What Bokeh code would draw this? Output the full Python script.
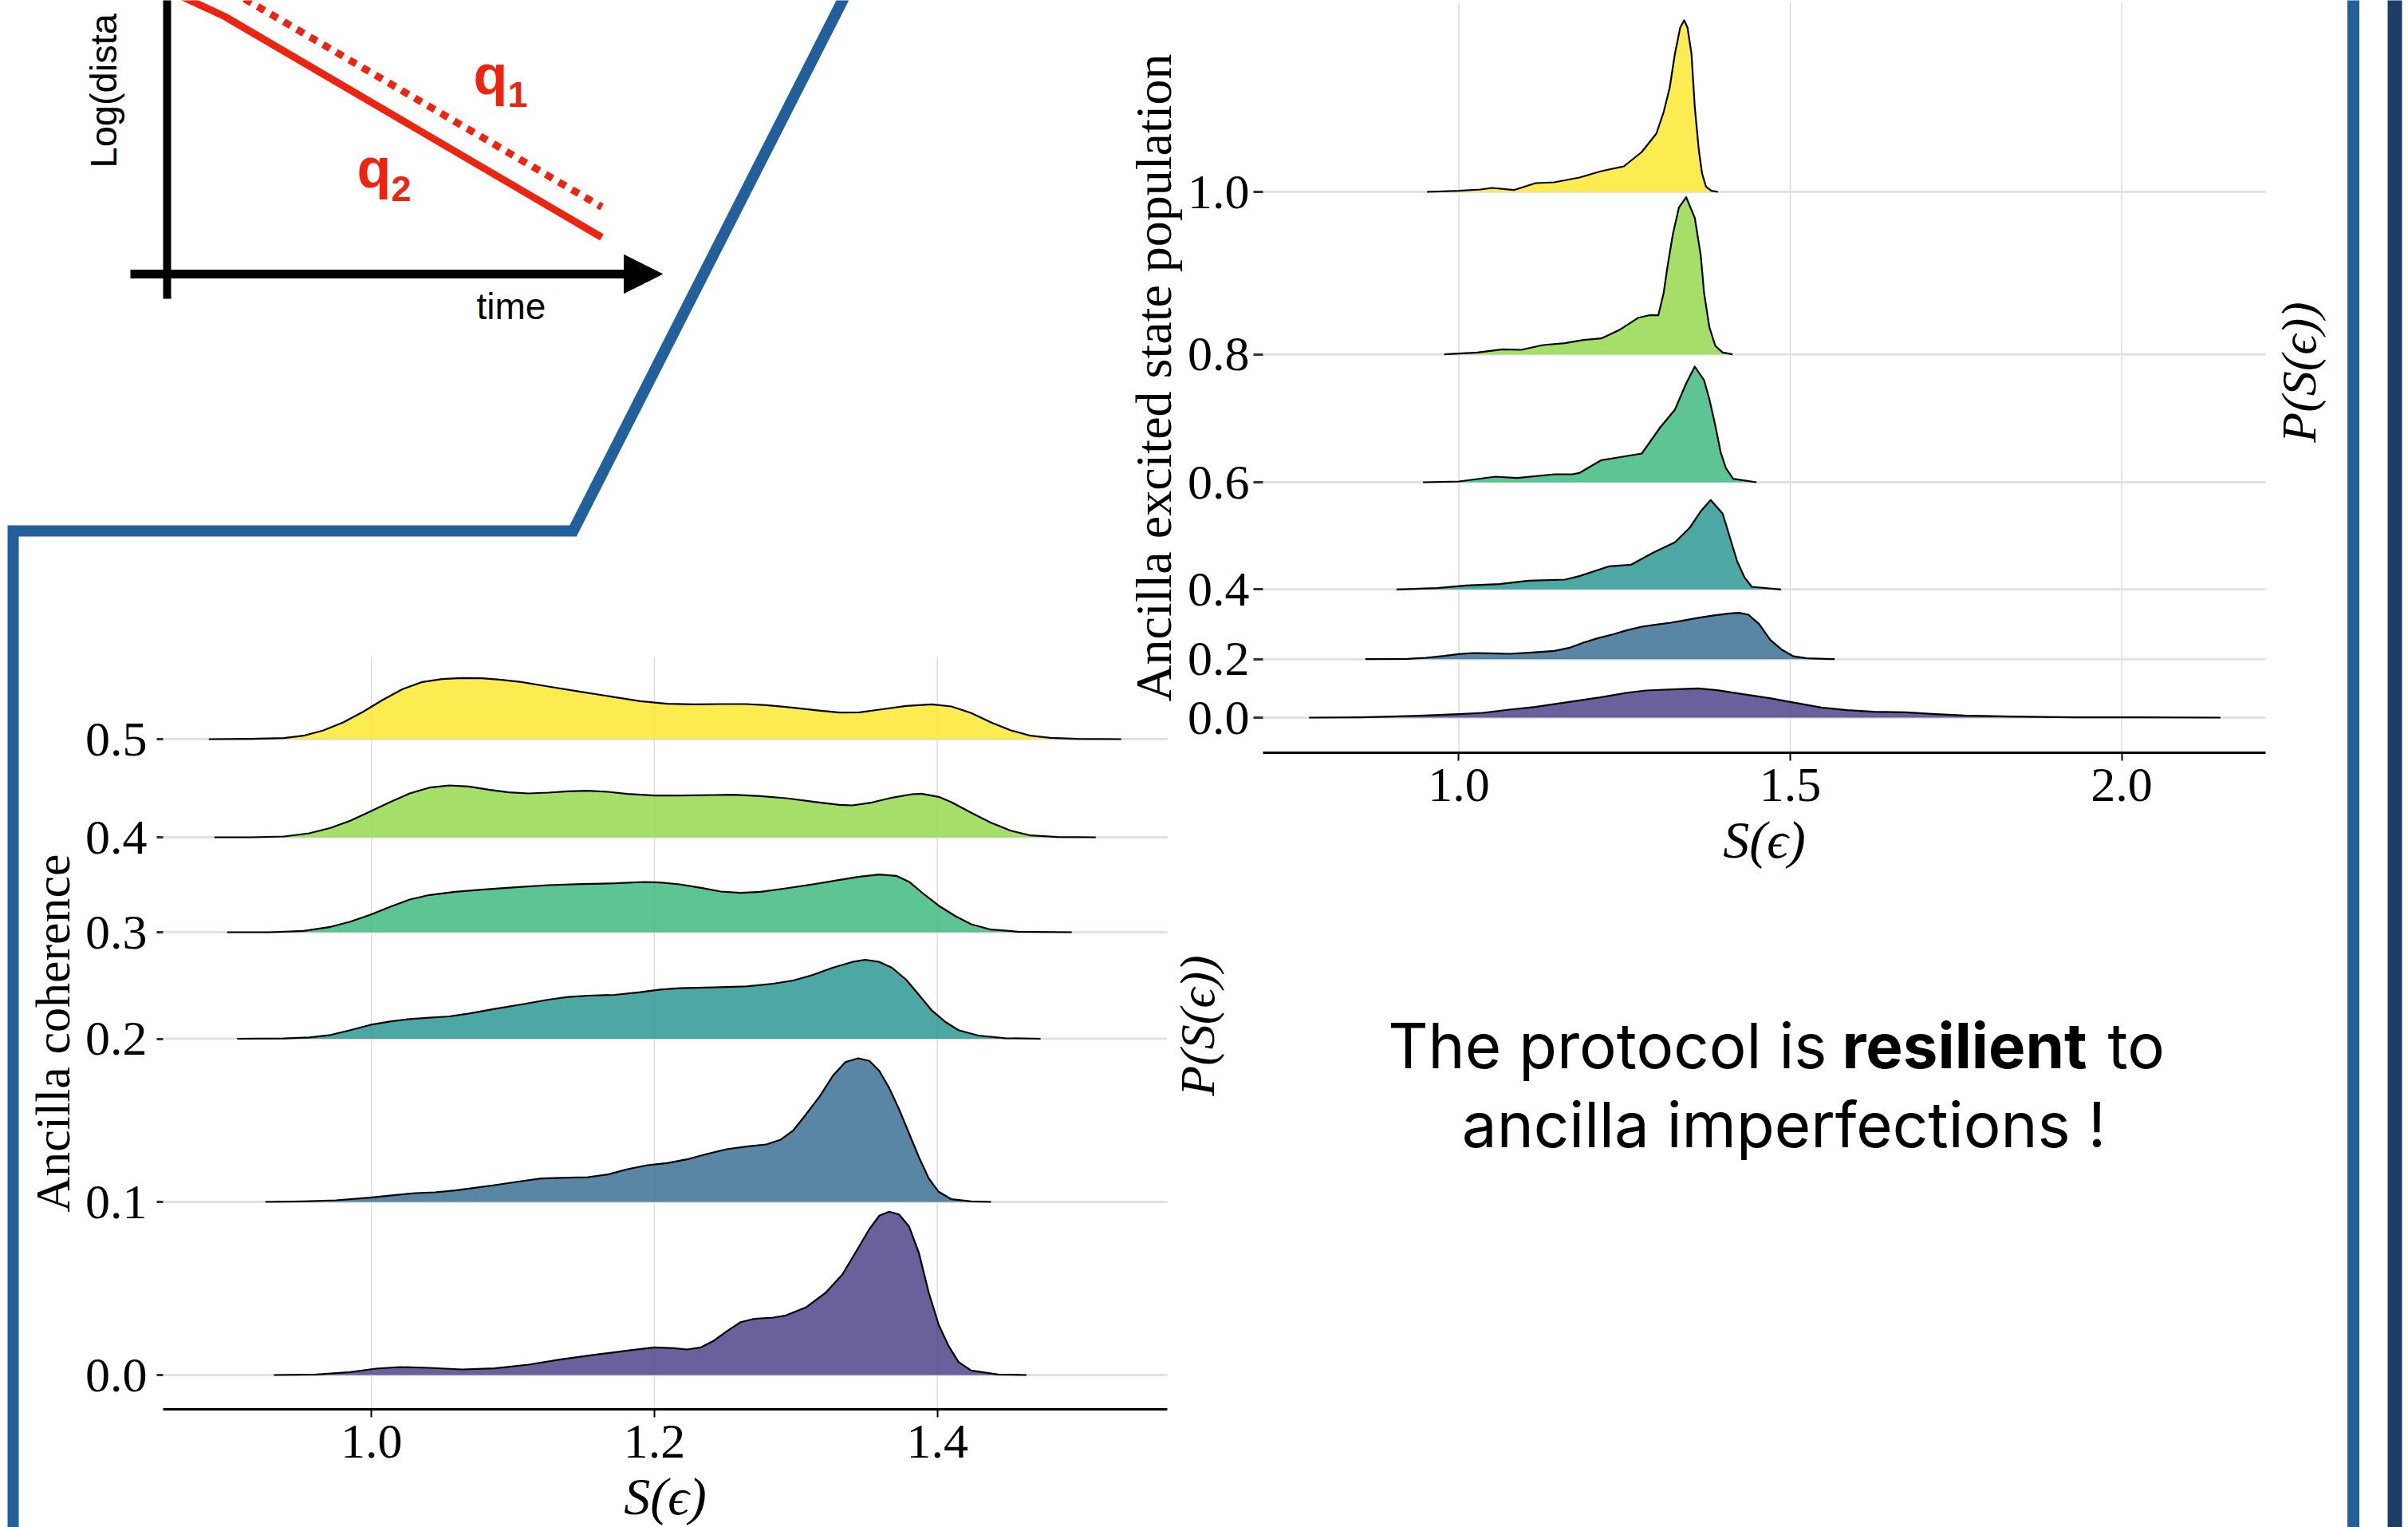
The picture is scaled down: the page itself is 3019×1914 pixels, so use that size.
from bokeh.plotting import figure
from bokeh.models import (Range1d, FixedTicker, PrintfTickFormatter, Label, Arrow,
                          NormalHead, ColumnDataSource, LinearAxis)
from bokeh.embed import file_html
from bokeh.resources import INLINE

W, H = 3019, 1914

# ---------------- data: ancilla coherence (bottom-left ridgeline) ----------------
coh_levels = ["0.0", "0.1", "0.2", "0.3", "0.4", "0.5"]
coh_offsets = [0.43, 2.60, 4.645, 5.98, 7.17, 8.40]
coh_s = [
    [0.931, 0.961, 0.985, 1.003, 1.020, 1.041, 1.064, 1.087, 1.111, 1.134, 1.162, 1.181, 1.200, 1.214,
     1.223, 1.233, 1.242, 1.251, 1.261, 1.270, 1.284, 1.293, 1.307, 1.321, 1.333, 1.342, 1.352, 1.359,
     1.366, 1.373, 1.380, 1.387, 1.394, 1.401, 1.408, 1.415, 1.424, 1.443, 1.463],
    [0.925, 0.952, 0.975, 0.999, 1.017, 1.031, 1.045, 1.059, 1.073, 1.087, 1.106, 1.120, 1.139, 1.153,
     1.167, 1.181, 1.195, 1.209, 1.223, 1.237, 1.251, 1.265, 1.279, 1.289, 1.298, 1.307, 1.317, 1.326,
     1.335, 1.344, 1.352, 1.359, 1.366, 1.373, 1.380, 1.387, 1.394, 1.401, 1.410, 1.424, 1.438],
    [0.905, 0.938, 0.956, 0.971, 0.985, 0.999, 1.013, 1.027, 1.041, 1.055, 1.069, 1.087, 1.106, 1.125,
     1.139, 1.153, 1.172, 1.190, 1.204, 1.218, 1.242, 1.265, 1.284, 1.298, 1.312, 1.326, 1.340, 1.349,
     1.359, 1.368, 1.378, 1.387, 1.396, 1.406, 1.415, 1.429, 1.448, 1.473],
    [0.898, 0.928, 0.952, 0.971, 0.985, 0.999, 1.013, 1.027, 1.041, 1.059, 1.078, 1.102, 1.125, 1.148,
     1.172, 1.193, 1.204, 1.218, 1.233, 1.247, 1.261, 1.275, 1.293, 1.312, 1.331, 1.345, 1.359, 1.371,
     1.380, 1.389, 1.401, 1.413, 1.424, 1.438, 1.457, 1.495],
    [0.889, 0.914, 0.938, 0.956, 0.971, 0.985, 0.999, 1.013, 1.027, 1.041, 1.055, 1.069, 1.083, 1.097,
     1.111, 1.125, 1.139, 1.153, 1.167, 1.181, 1.200, 1.218, 1.242, 1.256, 1.275, 1.293, 1.312, 1.331,
     1.340, 1.354, 1.368, 1.382, 1.389, 1.401, 1.410, 1.424, 1.438, 1.452, 1.466, 1.485, 1.512],
    [0.885, 0.914, 0.938, 0.952, 0.966, 0.980, 0.994, 1.008, 1.022, 1.036, 1.050, 1.064, 1.078, 1.092,
     1.106, 1.125, 1.148, 1.172, 1.190, 1.209, 1.228, 1.247, 1.265, 1.279, 1.293, 1.312, 1.331, 1.345,
     1.359, 1.378, 1.396, 1.410, 1.424, 1.438, 1.452, 1.466, 1.480, 1.499, 1.530],
]
coh_p = [
    [0, 0.007, 0.037, 0.08, 0.10, 0.09, 0.07, 0.083, 0.13, 0.197, 0.263, 0.307, 0.347, 0.337, 0.32,
     0.347, 0.43, 0.547, 0.663, 0.703, 0.72, 0.747, 0.847, 1.03, 1.263, 1.53, 1.83, 1.997, 2.047, 2.013,
     1.863, 1.53, 1.03, 0.63, 0.363, 0.163, 0.057, 0.007, 0],
    [0, 0.007, 0.02, 0.053, 0.087, 0.11, 0.12, 0.143, 0.177, 0.21, 0.26, 0.293, 0.303, 0.31, 0.343,
     0.41, 0.46, 0.487, 0.533, 0.60, 0.66, 0.693, 0.72, 0.777, 0.893, 1.093, 1.327, 1.577, 1.753, 1.80,
     1.767, 1.643, 1.427, 1.16, 0.86, 0.56, 0.293, 0.127, 0.033, 0.007, 0],
    [0, 0.003, 0.017, 0.047, 0.107, 0.173, 0.217, 0.247, 0.263, 0.28, 0.317, 0.373, 0.43, 0.49, 0.523,
     0.54, 0.55, 0.583, 0.617, 0.633, 0.643, 0.657, 0.69, 0.73, 0.80, 0.89, 0.963, 0.99, 0.963, 0.89,
     0.74, 0.55, 0.357, 0.207, 0.107, 0.04, 0.007, 0],
    [0, 0, 0.017, 0.067, 0.133, 0.217, 0.317, 0.41, 0.467, 0.507, 0.533, 0.563, 0.59, 0.603, 0.613,
     0.63, 0.623, 0.60, 0.557, 0.51, 0.493, 0.507, 0.55, 0.60, 0.657, 0.697, 0.723, 0.707, 0.633, 0.50,
     0.333, 0.20, 0.10, 0.033, 0.007, 0],
    [0, 0, 0.01, 0.05, 0.117, 0.207, 0.323, 0.44, 0.55, 0.623, 0.65, 0.637, 0.597, 0.563, 0.55, 0.56,
     0.577, 0.583, 0.57, 0.543, 0.523, 0.523, 0.53, 0.533, 0.517, 0.49, 0.447, 0.407, 0.40, 0.437,
     0.497, 0.54, 0.547, 0.507, 0.44, 0.307, 0.183, 0.083, 0.023, 0.003, 0],
    [0, 0.003, 0.013, 0.043, 0.11, 0.21, 0.343, 0.493, 0.627, 0.717, 0.753, 0.767, 0.763, 0.743, 0.717,
     0.66, 0.593, 0.527, 0.477, 0.443, 0.437, 0.44, 0.44, 0.427, 0.403, 0.367, 0.333, 0.337, 0.37,
     0.417, 0.437, 0.41, 0.327, 0.21, 0.11, 0.043, 0.017, 0.003, 0],
]
coh_xticks = [1.0, 1.2, 1.4]
coh_xlim = (0.8527, 1.5626)
coh_ylim = (0.0, 9.43)

# ---------------- data: ancilla excited state population (top-right ridgeline) ----------------
pop_levels = ["0.0", "0.2", "0.4", "0.6", "0.8", "1.0"]
pop_offsets = [0.44, 1.173, 2.047, 3.39, 4.993, 7.03]
pop_s = [
    [0.774, 0.850, 0.899, 0.948, 1.000, 1.036, 1.076, 1.115, 1.164, 1.213, 1.252, 1.282, 1.321, 1.361,
     1.390, 1.429, 1.469, 1.502, 1.547, 1.586, 1.626, 1.675, 1.714, 1.763, 1.832, 1.930, 2.028, 2.149],
    [0.859, 0.923, 0.950, 0.978, 1.000, 1.022, 1.044, 1.077, 1.111, 1.144, 1.166, 1.188, 1.210, 1.232,
     1.254, 1.276, 1.298, 1.320, 1.343, 1.365, 1.387, 1.409, 1.423, 1.437, 1.453, 1.470, 1.487, 1.505,
     1.525, 1.567],
    [0.906, 0.967, 1.011, 1.061, 1.105, 1.160, 1.182, 1.227, 1.260, 1.293, 1.326, 1.348, 1.365, 1.380,
     1.398, 1.409, 1.420, 1.431, 1.442, 1.486],
    [0.946, 1.000, 1.055, 1.088, 1.144, 1.171, 1.182, 1.215, 1.254, 1.276, 1.304, 1.326, 1.343, 1.356,
     1.370, 1.378, 1.387, 1.395, 1.403, 1.414, 1.449],
    [0.978, 1.028, 1.066, 1.094, 1.127, 1.160, 1.188, 1.215, 1.243, 1.271, 1.287, 1.301, 1.309, 1.315,
     1.323, 1.332, 1.343, 1.356, 1.365, 1.370, 1.378, 1.387, 1.398, 1.413],
    [0.952, 1.000, 1.033, 1.050, 1.083, 1.116, 1.144, 1.182, 1.215, 1.249, 1.276, 1.298, 1.309, 1.318,
     1.326, 1.334, 1.340, 1.345, 1.351, 1.356, 1.362, 1.367, 1.373, 1.381, 1.391],
]
pop_p = [
    [0, 0.003, 0.013, 0.027, 0.043, 0.06, 0.10, 0.133, 0.193, 0.253, 0.31, 0.34, 0.353, 0.367, 0.343,
     0.293, 0.243, 0.193, 0.127, 0.093, 0.073, 0.067, 0.047, 0.027, 0.013, 0.003, 0.003, 0],
    [0, 0.003, 0.017, 0.04, 0.063, 0.077, 0.073, 0.067, 0.083, 0.103, 0.14, 0.207, 0.263, 0.31, 0.363,
     0.407, 0.433, 0.457, 0.49, 0.523, 0.55, 0.573, 0.58, 0.557, 0.44, 0.24, 0.12, 0.035, 0.01, 0],
    [0, 0.017, 0.05, 0.067, 0.11, 0.123, 0.167, 0.29, 0.31, 0.46, 0.59, 0.77, 0.98, 1.12, 0.95, 0.65,
     0.35, 0.15, 0.033, 0],
    [0, 0.01, 0.07, 0.053, 0.10, 0.10, 0.117, 0.277, 0.33, 0.36, 0.69, 0.91, 1.24, 1.45, 1.28, 1.04, 0.71,
     0.377, 0.177, 0.043, 0],
    [0, 0.023, 0.063, 0.057, 0.117, 0.14, 0.18, 0.20, 0.31, 0.46, 0.49, 0.49, 0.77, 1.11, 1.51, 1.84,
     1.97, 1.71, 1.24, 0.77, 0.34, 0.107, 0.023, 0],
    [0, 0.013, 0.03, 0.05, 0.023, 0.11, 0.12, 0.18, 0.26, 0.32, 0.50, 0.73, 1.00, 1.30, 1.73, 2.06, 2.15,
     2.06, 1.73, 1.06, 0.53, 0.23, 0.063, 0.013, 0],
]
pop_xticks = [1.0, 1.5, 2.0]
pop_xlim = (0.7046, 2.2172)
pop_ylim = (0.0, 9.40)

ridge_colors = ["#443983", "#31688e", "#21918c", "#35b779", "#8fd744", "#fde725"]

BLUE = "#22609c"
NAVY = "#1c3d66"
RED = "#ec2410"
SERIF = "Liberation Serif"
SANS = "Liberation Sans"
STMT = "Inter"

# ---------------- one page-sized canvas, pixel coordinates for the layout ----------------
p = figure(width=W, height=H, x_range=Range1d(0, W), y_range=Range1d(H, 0),
           output_backend="svg", toolbar_location=None, title=None, min_border=0,
           x_axis_location=None, y_axis_location=None, outline_line_color=None,
           background_fill_color="white", border_fill_color="white")
p.xgrid.visible = False
p.ygrid.visible = False


def extend(d0, d1, p0, p1, q0, q1):
    """data range that maps pixel p0->d0, p1->d1, evaluated at canvas edges q0, q1"""
    k = (d1 - d0) / (p1 - p0)
    return Range1d(start=d0 + (q0 - p0) * k, end=d0 + (q1 - p0) * k)


def ridge_panel(name, frame, xlim, ylim, xticks, offsets, levels, s_list, p_list,
                ylabel, ylabel_size, ytick_len, ytick_standoff):
    left, right, top, bottom = frame
    p.extra_x_ranges[name] = extend(xlim[0], xlim[1], left, right, 0, W)
    p.extra_y_ranges[name] = extend(ylim[0], ylim[1], bottom, top, H, 0)
    kw = dict(x_range_name=name, y_range_name=name)

    # grid lines (from the tick values)
    p.segment(x0=xticks, x1=xticks, y0=[ylim[0]] * len(xticks), y1=[ylim[1]] * len(xticks),
              line_color="#dcdcdc", line_width=1.5, **kw)
    p.segment(x0=[xlim[0]] * len(offsets), x1=[xlim[1]] * len(offsets), y0=offsets, y1=offsets,
              line_color="#e2e2e2", line_width=3, **kw)

    # ridges: upper ones first so lower ridges are painted on top
    for i in reversed(range(len(levels))):
        s = s_list[i]
        h = p_list[i]
        assert len(s) == len(h), (name, i, len(s), len(h))
        base = offsets[i]
        src = ColumnDataSource(dict(s=s, base=[base] * len(s), top=[base + v for v in h]))
        p.varea(x="s", y1="base", y2="top", source=src, fill_color=ridge_colors[i],
                fill_alpha=0.8, **kw)
        p.line(x="s", y="top", source=src, line_color="black", line_width=2.2,
               line_join="round", **kw)

    xa = LinearAxis(fixed_location=ylim[0], bounds=xlim, **kw)
    xa.ticker = FixedTicker(ticks=xticks)
    xa.formatter = PrintfTickFormatter(format="%.1f")
    xa.axis_line_color = "black"
    xa.axis_line_width = 3
    xa.major_tick_out = 10
    xa.major_tick_in = 0
    xa.major_tick_line_width = 2
    xa.major_tick_line_color = "black"
    xa.minor_tick_line_color = None
    xa.major_label_text_font = SERIF
    xa.major_label_text_font_size = "62px"
    xa.major_label_text_color = "black"
    xa.major_label_standoff = 10
    xa.axis_label = "S(ϵ)"
    xa.axis_label_text_font = SERIF
    xa.axis_label_text_font_style = "italic"
    xa.axis_label_text_font_size = "66px"
    xa.axis_label_text_color = "black"
    xa.axis_label_standoff = 9
    p.add_layout(xa, "below")

    ya = LinearAxis(fixed_location=xlim[0], bounds=ylim, **kw)
    ya.ticker = FixedTicker(ticks=offsets)
    ya.major_label_overrides = {o: lab for o, lab in zip(offsets, levels)}
    ya.axis_line_color = None
    ya.major_tick_out = ytick_len
    ya.major_tick_in = 0
    ya.major_tick_line_width = 3
    ya.major_tick_line_color = "#333333"
    ya.minor_tick_line_color = None
    ya.major_label_text_font = SERIF
    ya.major_label_text_font_size = "62px"
    ya.major_label_text_color = "black"
    ya.major_label_standoff = ytick_standoff
    ya.axis_label = ylabel
    ya.axis_label_text_font = SERIF
    ya.axis_label_text_font_style = "normal"
    ya.axis_label_text_font_size = ylabel_size
    ya.axis_label_text_color = "black"
    ya.axis_label_standoff = 4
    p.add_layout(ya, "left")


# frame boxes (left, right, top, bottom) in page pixels
ridge_panel("coh", (204, 1463, 823, 1766), coh_xlim, coh_ylim, coh_xticks, coh_offsets, coh_levels,
            coh_s, coh_p, "Ancilla coherence", "62px", 8, 12)
ridge_panel("pop", (1583, 2840, 3, 943), pop_xlim, pop_ylim, pop_xticks, pop_offsets, pop_levels,
            pop_s, pop_p, "Ancilla excited state population", "64px", 12, 5)

# ---------------- decorations ----------------
p.line(x=[1061, 718, 16, 16], y=[-10, 665, 665, 1930], line_color=BLUE, line_width=14,
       line_join="miter")
p.line(x=[2950, 2950], y=[-10, 1930], line_color=BLUE, line_width=15)
p.line(x=[3002, 3002], y=[-10, 1930], line_color=NAVY, line_width=18)

# schematic: log(distance) vs time
p.line(x=[209, 209], y=[-10, 374], line_color="black", line_width=10)
p.add_layout(Arrow(end=NormalHead(size=48, fill_color="black", line_color="black"),
                   x_start=163, y_start=343, x_end=830, y_end=343,
                   line_color="black", line_width=11))
p.line(x=[227, 281, 754], y=[-5, 20, 297], line_color=RED, line_width=9)
p.line(x=[306, 754], y=[-2, 259], line_color=RED, line_width=9, line_dash="10 9")

p.add_layout(Label(x=593, y=93, text="q", text_font=SANS, text_font_style="bold",
                   text_font_size="70px", text_color=RED, text_baseline="alphabetic"))
p.add_layout(Label(x=636, y=118, text="1", text_font=SANS, text_font_style="bold",
                   text_font_size="45px", text_color=RED, text_baseline="alphabetic"))
p.add_layout(Label(x=447, y=210, text="q", text_font=SANS, text_font_style="bold",
                   text_font_size="70px", text_color=RED, text_baseline="alphabetic"))
p.add_layout(Label(x=490, y=236, text="2", text_font=SANS, text_font_style="bold",
                   text_font_size="45px", text_color=RED, text_baseline="alphabetic"))
p.add_layout(Label(x=597, y=383, text="time", text_font=SANS, text_font_size="46px",
                   text_color="black", text_baseline="alphabetic"))
p.add_layout(Label(x=129, y=210, text="Log(dista", text_font=SANS, text_font_size="47px",
                   text_color="black", text_baseline="alphabetic", text_align="left",
                   angle=90, angle_units="deg"))

# density labels on the right of each ridgeline
for (px, py) in [(2881, 466), (1500, 1285)]:
    p.add_layout(Label(x=px, y=py, text="P(S(ϵ))", text_font=SERIF, text_font_style="italic",
                       text_font_size="62px", text_color="black", text_align="center",
                       text_baseline="middle", angle=90, angle_units="deg"))

# statement
p.add_layout(Label(x=2290, y=1310, text="The protocol is", text_font=STMT, text_font_size="78px",
                   text_color="black", text_align="right", text_baseline="alphabetic"))
p.add_layout(Label(x=2309, y=1310, text="resilient", text_font=STMT, text_font_size="78px",
                   text_font_style="bold", text_color="black", text_align="left",
                   text_baseline="alphabetic"))
p.add_layout(Label(x=2642, y=1310, text="to", text_font=STMT, text_font_size="78px",
                   text_color="black", text_align="left", text_baseline="alphabetic"))
p.add_layout(Label(x=2236, y=1409, text="ancilla imperfections !", text_font=STMT,
                   text_font_size="78px", text_color="black", text_align="center",
                   text_baseline="alphabetic"))

with open("out.html", "w") as f:
    f.write(file_html(p, INLINE))
